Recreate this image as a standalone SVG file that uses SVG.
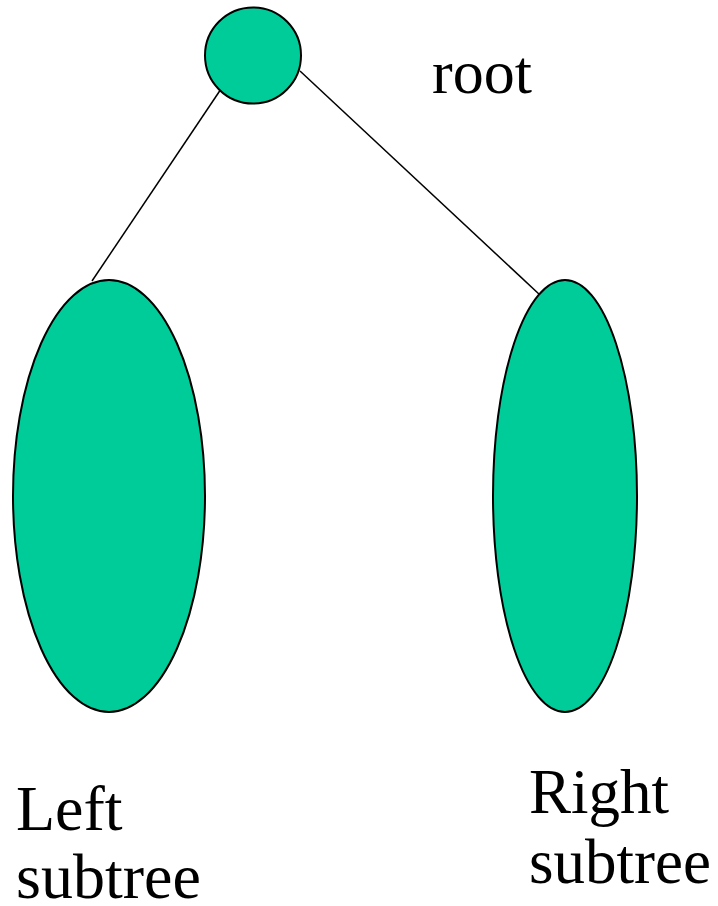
<svg xmlns="http://www.w3.org/2000/svg" width="718" height="906" viewBox="0 0 718 906">
<style>
.n{fill:#00CC99;stroke:#000;stroke-width:2}
.e{stroke:#000;stroke-width:1.5;fill:none}
.t{font-family:"Liberation Serif","Times New Roman",serif;fill:#000}
</style>
<rect width="718" height="906" fill="#fff"/>
<g id="connectors">
<line class="e" x1="221" y1="89" x2="92" y2="281"/>
<line class="e" x1="300" y1="71" x2="540" y2="295"/>
</g>
<g id="root">
<circle class="n" cx="253" cy="55.5" r="48"/>
<text class="t" x="432" y="93" font-size="62">root</text>
</g>
<g id="left">
<ellipse class="n" cx="109" cy="496" rx="96" ry="216"/>
<text class="t" x="16" y="830" font-size="64">Left</text>
<text class="t" x="16" y="898" font-size="64">subtree</text>
</g>
<g id="right">
<ellipse class="n" cx="565" cy="496" rx="72" ry="216"/>
<text class="t" x="529" y="813" font-size="63">Right</text>
<text class="t" x="529" y="883" font-size="63">subtree</text>
</g>
</svg>
